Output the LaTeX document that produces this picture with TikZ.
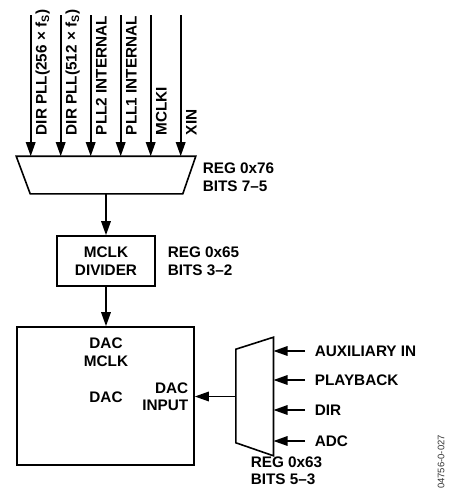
\documentclass[tikz,border=0pt]{standalone}
\usepackage{fontspec}
\setmainfont{Liberation Sans}
\usetikzlibrary{arrows.meta}
\begin{document}
\begin{tikzpicture}
            [x=1pt,y=-1pt,line width=1.6pt,
             Box/.style={draw=black,inner sep=0pt},
             Lbl/.style={inner sep=0pt,font=\fontsize{15.3}{17.5}\selectfont\bfseries},
             Arr/.style={-{Triangle[length=14pt,width=9.5pt]}}];
            \useasboundingbox (0,0) rectangle (448,496);
            % clock source select
            \node[minimum width=178pt,minimum height=36pt,inner sep=0pt] (mux1) at (106,175){};
            \draw (mux1.north west) -- (mux1.north east) -- ([xshift=-13pt]mux1.south east)
                  -- ([xshift=14pt]mux1.south west) -- cycle;
            \foreach \i/\txt in {0/DIR PLL(256 × f\textsubscript{S}),1/DIR PLL(512 × f\textsubscript{S}),
                                 2/PLL2 INTERNAL,3/PLL1 INTERNAL,4/MCLKI,5/XIN}{
                \coordinate (src\i) at (30.7+30*\i,15);
                \node[Lbl,rotate=90,anchor=base west] (srcl\i) at (46.7+30*\i,136){\txt};
                \draw[Arr] (src\i) to (src\i |- mux1.north);
            }
            \node[Lbl,anchor=west,align=left] (reg76) at (202,177){REG 0x76\\BITS 7–5};
            % divider
            \node[Box,minimum width=98pt,minimum height=50pt,Lbl,align=center] (div) at (106,261){MCLK\\DIVIDER};
            \node[Lbl,anchor=west,align=left] (reg65) at (167,261){REG 0x65\\BITS 3–2};
            \draw[Arr](mux1.south) to (div.north);
            % dac
            \node[Box,minimum width=177pt,minimum height=138pt] (dac) at (105.5,396){};
            \node[Lbl,align=center] (dacmclk) at (106,352){DAC\\MCLK};
            \node[Lbl] (daclbl) at (106,397){DAC};
            \node[Lbl,anchor=east,align=right] (dacin) at (189,396.5){DAC\\INPUT};
            \draw[Arr](div.south) to (div.south |- dac.north);
            % input select
            \node[minimum width=36pt,minimum height=117pt,inner sep=0pt] (mux2) at (254.7,396.5){};
            \draw (mux2.north east) -- (mux2.south east) -- ([yshift=13pt]mux2.south west)
                  -- ([yshift=-12pt]mux2.north west) -- cycle;
            \foreach \y/\txt [count=\k] in {351/AUXILIARY IN,380/PLAYBACK,410/DIR,441/ADC}{
                \node[Lbl,anchor=west] (inl\k) at (314,\y){\txt};
                \coordinate (in\k) at (305,\y);
                \draw[Arr] (in\k) to (in\k -| mux2.east);
            }
            \draw[Arr](mux2.west) to (mux2.west -| dac.east);
            \node[Lbl,anchor=west,align=left] (reg63) at (250,470.5){REG 0x63\\BITS 5–3};
            \node[inner sep=0pt,rotate=90,font=\fontsize{9.5}{11}\selectfont,text=black!80] (figid) at (441,462){04756-0-027};
        \end{tikzpicture}
\end{document}
